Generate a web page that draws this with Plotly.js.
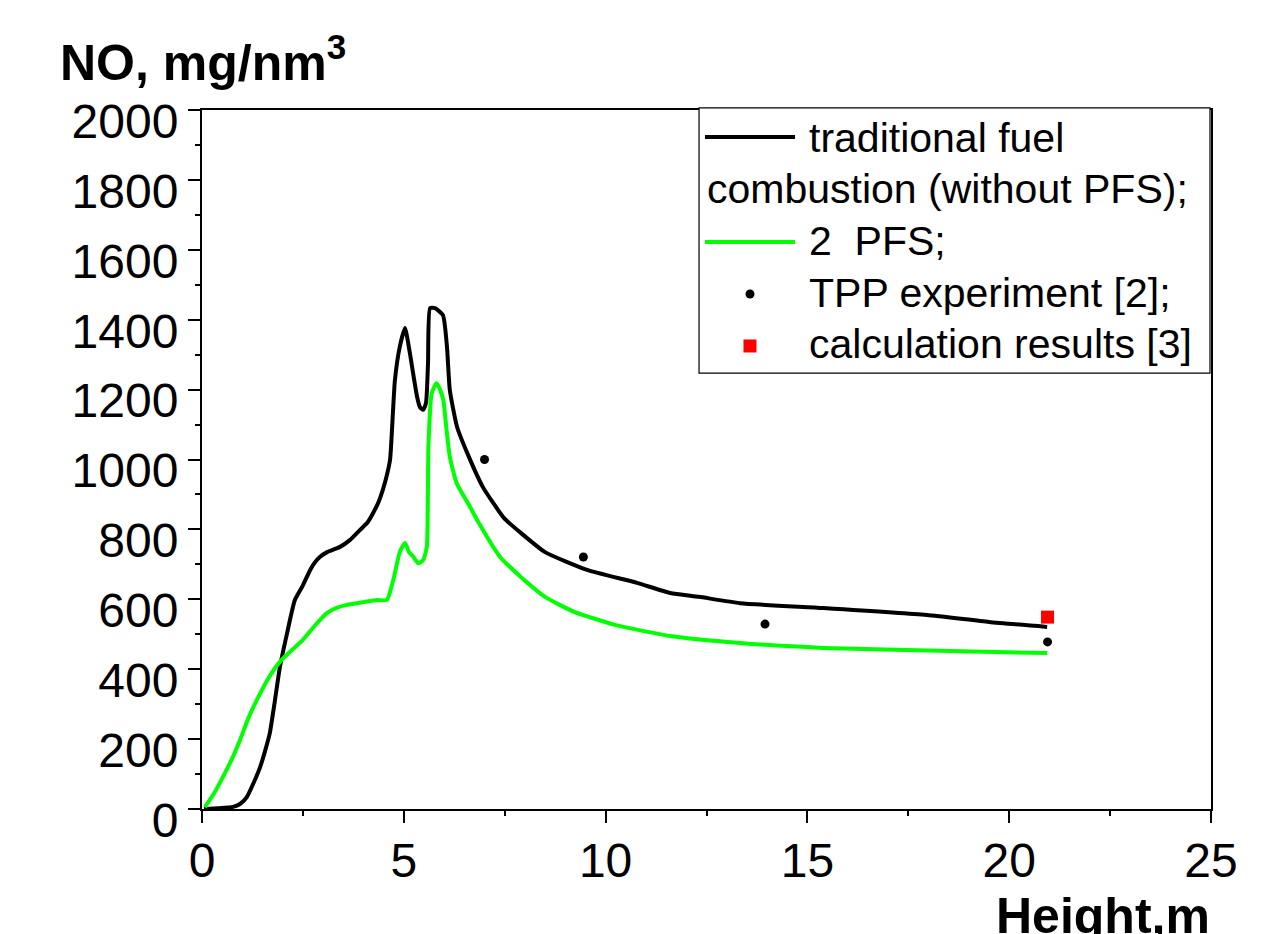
<!DOCTYPE html>
<html>
<head>
<meta charset="utf-8">
<script src="https://cdn.plot.ly/plotly-3.0.1.min.js"></script>
<style>
  html, body { margin: 0; padding: 0; background: #ffffff; }
  #chart { width: 1280px; height: 934px; }
</style>
</head>
<body>
<div id="chart"></div>
<script>
// ---- Data ----
const traditionalHeight = [0.05, 0.4, 0.77, 0.95, 1.11, 1.28, 1.44, 1.56, 1.68, 1.8, 1.93, 2.11, 2.3, 2.5, 2.68, 2.8, 2.92, 3.1, 3.42, 3.67, 3.91, 4.09, 4.24, 4.38, 4.48, 4.58, 4.66, 4.73, 4.78, 4.9, 5.03, 5.15, 5.23, 5.33, 5.4, 5.48, 5.55, 5.6, 5.65, 5.77, 5.97, 6.07, 6.14, 6.32, 6.57, 6.96, 7.48, 7.9, 8.5, 9.54, 10.78, 11.6, 12.31, 13.33, 15.39, 17.96, 19.5, 20.94];
const traditionalNO     = [0, 2, 6, 15, 34, 75, 120, 165, 217, 305, 406, 504, 598, 640, 684, 706, 721, 735, 750, 770, 798, 818, 847, 880, 913, 955, 1000, 1133, 1227, 1322, 1376, 1305, 1247, 1179, 1150, 1142, 1162, 1276, 1433, 1433, 1413, 1322, 1199, 1093, 1019, 921, 833, 790, 735, 684, 647, 618, 607, 589, 575, 555, 535, 521];

const pfsHeight = [0.07, 0.3, 0.52, 0.75, 0.94, 1.15, 1.36, 1.65, 1.93, 2.2, 2.5, 2.8, 3.1, 3.35, 3.59, 4.0, 4.34, 4.58, 4.74, 4.9, 5.03, 5.13, 5.24, 5.36, 5.48, 5.57, 5.61, 5.69, 5.81, 5.9, 5.98, 6.06, 6.14, 6.31, 6.64, 6.86, 7.38, 7.9, 8.5, 9.22, 10.26, 11.6, 13.33, 15.39, 17.44, 20.94];
const pfsNO     = [5, 45, 92, 145, 197, 260, 312, 375, 421, 452, 484, 525, 561, 576, 584, 592, 598, 598, 655, 735, 761, 735, 721, 703, 712, 750, 1037, 1189, 1218, 1200, 1170, 1084, 1008, 932, 865, 818, 722, 664, 607, 564, 526, 495, 475, 461, 455, 446];

const experimentHeight = [7, 9.45, 13.95, 20.95];
const experimentNO     = [1000, 721, 529, 478];

const calcHeight = [20.95];
const calcNO     = [549];

const xTickValues = [0, 5, 10, 15, 20, 25];
const yTickValues = [0, 200, 400, 600, 800, 1000, 1200, 1400, 1600, 1800, 2000];

const legendLabels = ["traditional fuel", "combustion (without PFS);", "2  PFS;", "TPP experiment [2];", "calculation results [3]"];
const yTitle = "NO, mg/nm<sup>3</sup>";
const xTitle = "Height,m";

// ---- Styles ----
const FONT = "Arial, 'Liberation Sans', Helvetica, sans-serif";
const BLACK = "#000000";
const GREEN = "#00ff00";
const RED = "#ff0000";

const traces = [
  { x: traditionalHeight, y: traditionalNO, type: "scatter", mode: "lines",
    line: { color: BLACK, width: 4, shape: "spline", smoothing: 0.5 }, showlegend: false, hoverinfo: "skip" },
  { x: pfsHeight, y: pfsNO, type: "scatter", mode: "lines",
    line: { color: GREEN, width: 4, shape: "spline", smoothing: 0.5 }, showlegend: false, hoverinfo: "skip" },
  { x: experimentHeight, y: experimentNO, type: "scatter", mode: "markers",
    marker: { color: BLACK, size: 9, symbol: "circle" }, showlegend: false, hoverinfo: "skip" },
  { x: calcHeight, y: calcNO, type: "scatter", mode: "markers",
    marker: { color: RED, size: 13, symbol: "square" }, showlegend: false, hoverinfo: "skip" }
];

const axisCommon = {
  showgrid: false, zeroline: false,
  showline: true, linecolor: BLACK, linewidth: 2, mirror: true,
  ticks: "outside", ticklen: 12, tickwidth: 2, tickcolor: BLACK,
  tickfont: { family: FONT, size: 48, color: BLACK }
};

// custom legend (paper coordinates)
const L = { x0: 0.4926, x1: 0.999, y0: 0.6237, y1: 1.0029 };
const rowY = [0.9599, 0.8870, 0.8126, 0.7382, 0.6652];
const textX = 0.5996, textX2 = 0.4985;
const sampleX0 = 0.4985, sampleX1 = 0.5877, symX = 0.5431;

const shapes = [
  { type: "rect", xref: "paper", yref: "paper", x0: L.x0, x1: L.x1, y0: L.y0, y1: L.y1,
    line: { color: BLACK, width: 1.2 }, fillcolor: "#ffffff", layer: "above" },
  { type: "line", xref: "paper", yref: "paper", x0: sampleX0, x1: sampleX1, y0: 0.9614, y1: 0.9614,
    line: { color: BLACK, width: 4 } },
  { type: "line", xref: "paper", yref: "paper", x0: sampleX0, x1: sampleX1, y0: 0.8112, y1: 0.8112,
    line: { color: GREEN, width: 4 } },
  { type: "circle", xref: "paper", yref: "paper", xsizemode: "pixel", ysizemode: "pixel",
    xanchor: symX, yanchor: 0.7368, x0: -4.5, x1: 4.5, y0: -4.5, y1: 4.5,
    fillcolor: BLACK, line: { width: 0 } },
  { type: "rect", xref: "paper", yref: "paper", xsizemode: "pixel", ysizemode: "pixel",
    xanchor: symX, yanchor: 0.6624, x0: -6.5, x1: 6.5, y0: -6.5, y1: 6.5,
    fillcolor: RED, line: { width: 0 } }
];

const legendFont = { family: FONT, size: 41, color: BLACK };
const annotations = [
  { text: legendLabels[0], xref: "paper", yref: "paper", x: textX,  y: rowY[0], xanchor: "left", yanchor: "middle", showarrow: false, font: legendFont },
  { text: legendLabels[1], xref: "paper", yref: "paper", x: textX2, y: rowY[1], xanchor: "left", yanchor: "middle", showarrow: false, font: legendFont },
  { text: legendLabels[2], xref: "paper", yref: "paper", x: textX,  y: rowY[2], xanchor: "left", yanchor: "middle", showarrow: false, font: legendFont },
  { text: legendLabels[3], xref: "paper", yref: "paper", x: textX,  y: rowY[3], xanchor: "left", yanchor: "middle", showarrow: false, font: legendFont },
  { text: legendLabels[4], xref: "paper", yref: "paper", x: textX,  y: rowY[4], xanchor: "left", yanchor: "middle", showarrow: false, font: legendFont },
  { text: "<b>" + yTitle + "</b>", xref: "paper", yref: "paper", x: -0.1428, y: 1.1216,
    xanchor: "left", yanchor: "top", showarrow: false, font: { family: FONT, size: 50, color: BLACK } },
  { text: "<b>" + xTitle + "</b>", xref: "paper", yref: "paper", x: 1.001, y: -0.110,
    xanchor: "right", yanchor: "top", showarrow: false, font: { family: FONT, size: 50, color: BLACK } }
];

const layout = {
  width: 1280, height: 934,
  margin: { l: 202, r: 69, t: 110, b: 125, pad: 0 },
  paper_bgcolor: "#ffffff", plot_bgcolor: "#ffffff",
  showlegend: false,
  font: { family: FONT, color: BLACK },
  xaxis: Object.assign({}, axisCommon, {
    range: [0, 25], tickvals: xTickValues, ticktext: xTickValues.map(String),
    ticklabelstandoff: -4,
    minor: { dtick: 2.5, tick0: 0, ticks: "outside", ticklen: 5, tickwidth: 2, tickcolor: BLACK, showgrid: false }
  }),
  yaxis: Object.assign({}, axisCommon, {
    range: [0, 2000], tickvals: yTickValues, ticktext: yTickValues.map(String),
    ticklabelshift: 11,
    minor: { dtick: 100, tick0: 0, ticks: "outside", ticklen: 5, tickwidth: 2, tickcolor: BLACK, showgrid: false }
  }),
  shapes: shapes,
  annotations: annotations
};

Plotly.newPlot("chart", traces, layout, { displayModeBar: false, staticPlot: true });
</script>
</body>
</html>
